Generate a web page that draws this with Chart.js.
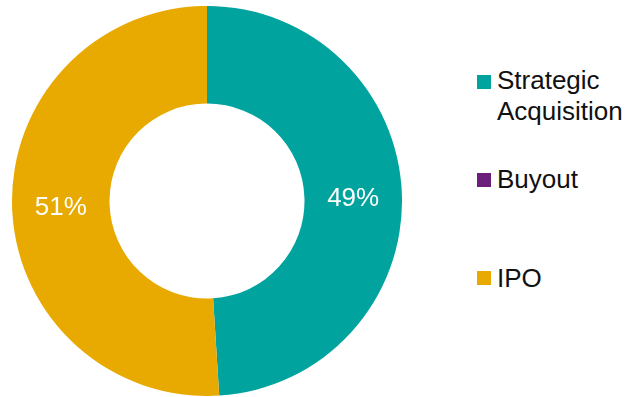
<!DOCTYPE html>
<html>
<head>
<meta charset="utf-8">
<script src="https://cdn.jsdelivr.net/npm/chart.js@4/dist/chart.umd.min.js"></script>
<style>
  html, body { margin: 0; padding: 0; background: #ffffff; }
  body { width: 642px; height: 397px; position: relative; overflow: hidden; font-family: "Liberation Sans", Arial, sans-serif; }
  #wrap { position: absolute; left: 12px; top: 6px; width: 390px; height: 390px; }
  .lg-box { position: absolute; left: 477px; width: 14px; height: 14px; }
  .lg-text { position: absolute; left: 497px; font-size: 26px; line-height: 31px; color: #111111; white-space: nowrap; }
</style>
</head>
<body>
<div id="wrap"><canvas id="c" width="390" height="390"></canvas></div>
<div id="legend"></div>
<script>
const categories = ["Strategic Acquisition", "Buyout", "IPO"];
const legendLines = [["Strategic", "Acquisition"], ["Buyout"], ["IPO"]];
const values = [49, 0, 51];
const colors = ["#00A39E", "#6B1F7B", "#E8A900"];

// HTML legend
const legendTops = [64.5, 163.5, 262.5];
const boxTops = [75, 173, 271];
const legend = document.getElementById('legend');
categories.forEach((cat, i) => {
  const b = document.createElement('div');
  b.className = 'lg-box';
  b.style.top = boxTops[i] + 'px';
  b.style.background = colors[i];
  legend.appendChild(b);
  const t = document.createElement('div');
  t.className = 'lg-text';
  t.style.top = legendTops[i] + 'px';
  t.innerHTML = legendLines[i].join('<br>');
  legend.appendChild(t);
});

const pctLabels = {
  id: 'pctLabels',
  afterDatasetsDraw(chart) {
    const ctx = chart.ctx;
    const meta = chart.getDatasetMeta(0);
    const data = chart.data.datasets[0].data;
    const total = data.reduce((a, b) => a + b, 0);
    ctx.save();
    ctx.fillStyle = '#ffffff';
    ctx.font = '26px "Liberation Sans", Arial, sans-serif';
    ctx.textAlign = 'center';
    ctx.textBaseline = 'middle';
    meta.data.forEach((arc, i) => {
      if (!data[i]) return;
      const p = arc.tooltipPosition();
      ctx.fillText(Math.round(data[i] / total * 100) + '%', p.x, p.y + 2);
    });
    ctx.restore();
  }
};

new Chart(document.getElementById('c'), {
  type: 'doughnut',
  data: {
    labels: categories,
    datasets: [{
      data: values,
      backgroundColor: colors,
      borderWidth: 0
    }]
  },
  options: {
    responsive: false,
    animation: false,
    cutout: '50%',
    layout: { padding: 0 },
    plugins: {
      legend: { display: false },
      tooltip: { enabled: false }
    }
  },
  plugins: [pctLabels]
});
</script>
</body>
</html>
